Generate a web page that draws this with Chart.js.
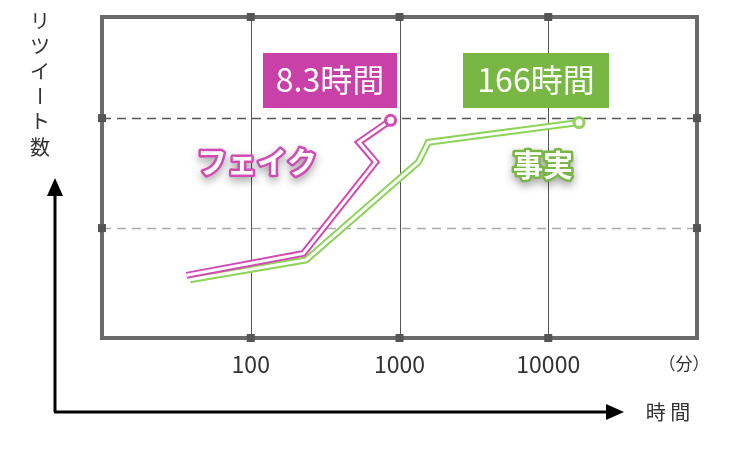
<!DOCTYPE html>
<html><head><meta charset="utf-8">
<script src="https://cdn.jsdelivr.net/npm/chart.js@4"></script>
<style>body{margin:0;background:#fff}#wrap{width:749px;height:450px}</style>
</head><body><div id="wrap"><canvas id="c"></canvas></div>
<script>
/* Retweet spread: fake vs fact */
var xTicks = [100, 1000, 10000];
var fakeX = [37, 226, 692, 533, 871];
var fakeY = [0.57, 0.77, 1.60, 1.78, 1.98];
var factX = [39, 236, 1339, 1561, 16100];
var factY = [0.53, 0.71, 1.60, 1.78, 1.96];
var FAKE = "#d24bb4", FACT = "#8fd35a";

function pts(xs, ys) { return xs.map(function (x, i) { return { x: x, y: ys[i] }; }); }
function lastOnly(color) {
  return function (ctx) { return ctx.dataIndex === ctx.dataset.data.length - 1 ? color : "rgba(0,0,0,0)"; };
}
function outer(xs, ys, c) {
  return { data: pts(xs, ys), borderColor: c, borderWidth: 7, pointRadius: 0, tension: 0, borderJoinStyle: "miter", order: 2 };
}
function inner(xs, ys, c) {
  return { data: pts(xs, ys), borderColor: "#fff", borderWidth: 3, tension: 0, borderJoinStyle: "miter", order: 1,
    pointRadius: function (ctx) { return ctx.dataIndex === ctx.dataset.data.length - 1 ? 5 : 0; },
    pointBackgroundColor: "#fff", pointBorderColor: lastOnly(c), pointBorderWidth: 3 };
}

var decor = {
  id: "decor",
  beforeDatasetsDraw: function (ch) {
    var g = ch.ctx, a = ch.chartArea, ys = ch.scales.y, xs = ch.scales.x;
    g.save();
    g.lineWidth = 1; g.strokeStyle = "#555";
    xTicks.forEach(function (t) { var px = Math.round(xs.getPixelForValue(t)) + 0.5; g.beginPath(); g.moveTo(px, a.top); g.lineTo(px, a.bottom); g.stroke(); });
    [[2, "#555"], [1, "#aaa"]].forEach(function (d) {
      var py = Math.round(ys.getPixelForValue(d[0])) + 0.5;
      g.strokeStyle = d[1]; g.lineWidth = 1.5; g.setLineDash([9, 6]);
      g.beginPath(); g.moveTo(a.left, py); g.lineTo(a.right, py); g.stroke();
    });
    g.restore();
  },
  afterDatasetsDraw: function (ch) {
    var g = ch.ctx, a = ch.chartArea, ys = ch.scales.y, xs = ch.scales.x;
    g.save();
    g.strokeStyle = "#6a6a6a"; g.lineWidth = 4;
    g.strokeRect(a.left, a.top, a.right - a.left, a.bottom - a.top);
    g.fillStyle = "#555";
    xTicks.forEach(function (t) { var px = xs.getPixelForValue(t); g.fillRect(px - 4, a.top - 4, 8, 8); g.fillRect(px - 4, a.bottom - 4, 8, 8); });
    [1, 2].forEach(function (t) { var py = ys.getPixelForValue(t); g.fillRect(a.left - 4, py - 4, 8, 8); g.fillRect(a.right - 4, py - 4, 8, 8); });
    // tick labels
    g.font = "23px 'Noto Sans CJK JP'"; g.fillStyle = "#333"; g.textAlign = "center"; g.textBaseline = "middle";
    xTicks.forEach(function (t) { g.fillText(String(t), xs.getPixelForValue(t), 364); });
    g.font = "17px 'Noto Sans CJK JP'"; g.fillText("（分）", 684, 364);
    // axes arrows
    g.strokeStyle = "#000"; g.lineWidth = 3; g.fillStyle = "#000";
    g.beginPath(); g.moveTo(55, 412); g.lineTo(55, 190); g.stroke();
    g.beginPath(); g.moveTo(55, 178); g.lineTo(47, 196); g.lineTo(63, 196); g.closePath(); g.fill();
    g.beginPath(); g.moveTo(54, 412); g.lineTo(612, 412); g.stroke();
    g.beginPath(); g.moveTo(624, 412); g.lineTo(606, 404); g.lineTo(606, 420); g.closePath(); g.fill();
    g.font = "20px 'Noto Sans CJK JP'"; g.fillStyle = "#333";
    g.fillText("時 間", 668, 412);
    ["リ", "ツ", "イ"].forEach(function (s, i) { g.fillText(s, 40, 21 + i * 25); });
    g.save(); g.translate(40, 96); g.rotate(Math.PI / 2); g.fillText("ー", 0, 0); g.restore();
    g.fillText("ト", 40, 121);
    g.fillText("数", 40, 147);
    // value boxes
    g.fillStyle = "#c940a8"; g.fillRect(263, 53, 134, 55);
    g.fillStyle = "#78b743"; g.fillRect(463, 53, 146, 55);
    g.fillStyle = "#fff"; g.font = "32px 'Noto Sans CJK JP'";
    g.fillText("8.3時間", 330, 80); g.fillText("166時間", 536, 80);
    // series names
    g.font = "bold 30px 'Noto Sans CJK JP'"; g.lineJoin = "round";
    g.shadowColor = "rgba(0,0,0,0.35)"; g.shadowBlur = 8; g.shadowOffsetY = 4;
    g.strokeStyle = FAKE; g.lineWidth = 5; g.strokeText("フェイク", 257, 162);
    g.strokeStyle = "#7ab548"; g.strokeText("事実", 543, 165);
    g.shadowColor = "transparent";
    g.fillStyle = "#fff"; g.fillText("フェイク", 257, 162); g.fillText("事実", 543, 165);
    g.restore();
  }
};

new Chart(document.getElementById("c"), {
  type: "line",
  data: { datasets: [inner(fakeX, fakeY, FAKE), inner(factX, factY, FACT), outer(fakeX, fakeY, FAKE), outer(factX, factY, FACT)] },
  options: {
    responsive: true, maintainAspectRatio: false, animation: false,
    layout: { padding: { left: 102, right: 52, top: 17, bottom: 112 } },
    plugins: { legend: { display: false }, tooltip: { enabled: false } },
    scales: {
      x: { type: "logarithmic", min: 10, max: 100000, display: false },
      y: { min: 0, max: 2.92, display: false }
    }
  },
  plugins: [decor]
});
</script></body></html>
